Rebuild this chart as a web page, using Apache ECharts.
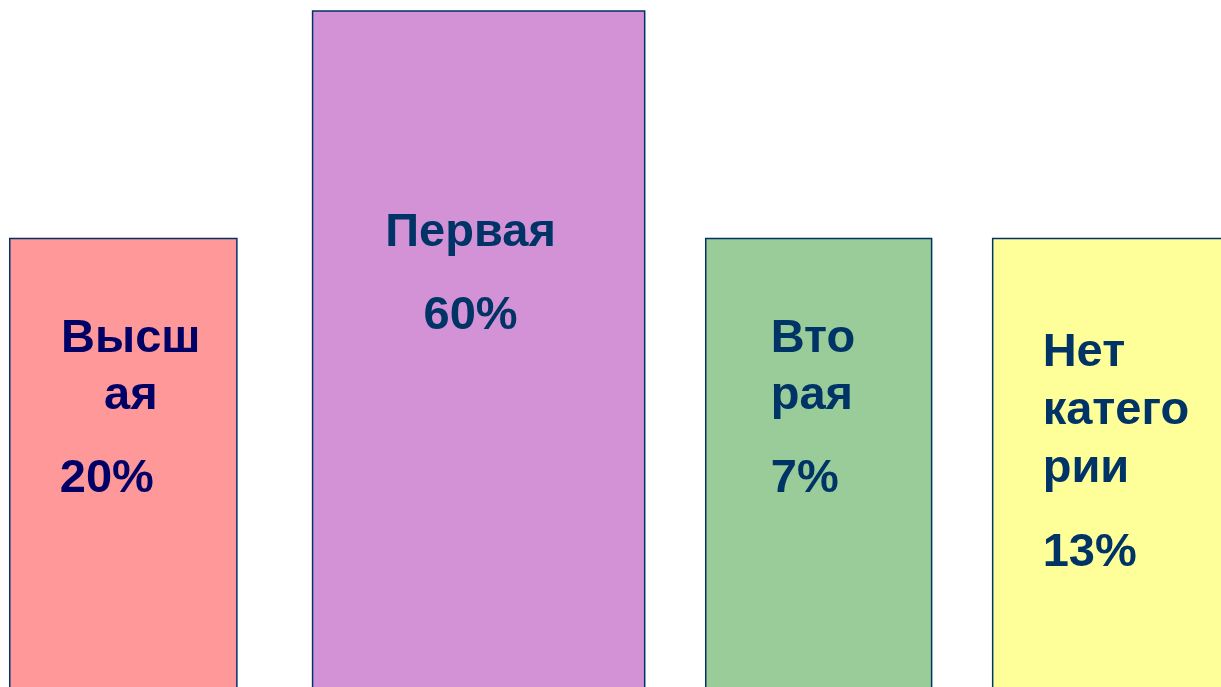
<!DOCTYPE html>
<html>
<head>
<meta charset="utf-8">
<script src="https://cdn.jsdelivr.net/npm/echarts@6/dist/echarts.min.js"></script>
<style>
    html, body {margin: 0; padding: 0; background: #fff;}
    #chart {width: 1221px; height: 687px;}
</style>
</head>
<body>
<div id="chart"></div>
<script>
// данные
const categories = ['Высшая', 'Первая', 'Вторая', 'Нет категории']
const percents = [20, 60, 7, 13]
const labelLines = [['Высш', 'ая'], ['Первая'], ['Вто', 'рая'], ['Нет', 'катего', 'рии']]
const barLevels = [65.3, 98.4, 65.3, 65.3]

// раскладка (в процентах ширины) и стиль
const barSpans = [[0.8, 19.4], [25.6, 52.8], [57.8, 76.3], [81.3, 101]]
const barColors = ['#FF9999', '#D492D6', '#99CC99', '#FFFF99']
const textColors = ['#000066', '#003366', '#003366', '#003366']
const textLayout = [
    {dx: [121, 121, 50], dy: [101, 158, 241], align: ['center', 'center', 'left']},
    {dx: [158, 158], dy: [222, 305], align: ['center', 'center']},
    {dx: [65, 65, 65], dy: [101, 158, 241], align: ['left', 'left', 'left']},
    {dx: [50, 50, 50, 50], dy: [115, 173, 231, 315], align: ['left', 'left', 'left', 'left']}
]

const chart = echarts.init(document.getElementById('chart'))

const seriesData = categories.map((name, i) => ({
    name: name,
    value: [barSpans[i][0], barSpans[i][1], barLevels[i], i]
}))

function renderItem(params, api) {
    const i = api.value(3)
    const topLeft = api.coord([api.value(0), api.value(2)])
    // низ столбика уходит за край слайда
    const bottomRight = api.coord([api.value(1), -2])
    const left = topLeft[0]
    const top = topLeft[1]
    const lines = labelLines[i].concat([percents[i] + '%'])
    const lay = textLayout[i]
    const children = [{
        type: 'rect',
        shape: {x: left, y: top, width: bottomRight[0] - left, height: bottomRight[1] - top},
        style: {fill: barColors[i], stroke: '#003366', lineWidth: 1.5}
    }]
    lines.forEach((t, k) => {
        children.push({
            type: 'text',
            x: left + lay.dx[k],
            y: top + lay.dy[k],
            style: {
                text: t,
                fill: textColors[i],
                fontSize: 47,
                fontWeight: 'bold',
                fontFamily: '"Liberation Sans", Arial, sans-serif',
                align: lay.align[k],
                verticalAlign: 'middle'
            }
        })
    })
    return {type: 'group', children: children}
}

const option = {
    animation: false,
    grid: {left: 0, right: 0, top: 0, bottom: 0},
    xAxis: {type: 'value', min: 0, max: 100, show: false},
    yAxis: {type: 'value', min: 0, max: 100, show: false},
    series: [{
        type: 'custom',
        renderItem: renderItem,
        clip: false,
        data: seriesData
    }]
}

chart.setOption(option)
</script>
</body>
</html>
